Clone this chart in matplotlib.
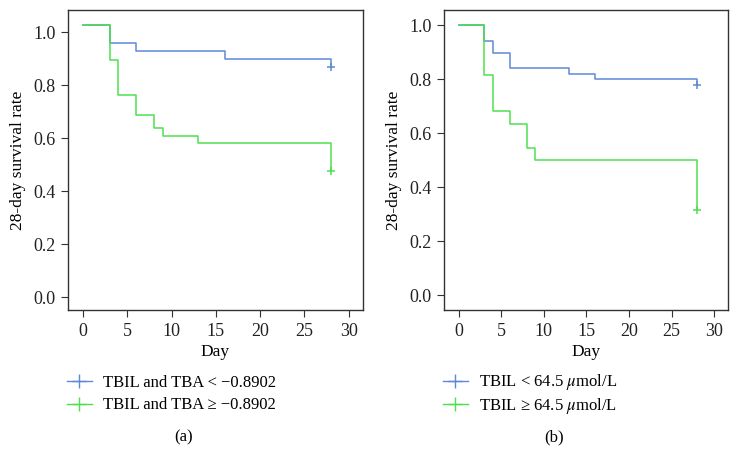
import matplotlib
matplotlib.use("Agg")
import matplotlib.pyplot as plt
from matplotlib.lines import Line2D

plt.rcParams['font.family'] = ['Liberation Serif', 'DejaVu Serif']
plt.rcParams['mathtext.fontset'] = 'stix'
plt.rcParams['font.size'] = 11

# panel (a)
a_low_days = [0, 3, 6, 16, 28]
a_low_surv = [1.026, 0.960, 0.931, 0.900, 0.870]
a_high_days = [0, 3, 4, 6, 8, 9, 13, 28]
a_high_surv = [1.026, 0.894, 0.762, 0.687, 0.637, 0.609, 0.583, 0.475]
a_labels = ["TBIL and TBA < \u22120.8902", "TBIL and TBA \u2265 \u22120.8902"]

# panel (b)
b_low_days = [0, 3, 4, 6, 13, 16, 28]
b_low_surv = [1.0, 0.941, 0.899, 0.841, 0.821, 0.800, 0.780]
b_high_days = [0, 3, 4, 6, 8, 9, 28]
b_high_surv = [1.0, 0.816, 0.681, 0.636, 0.546, 0.500, 0.316]
b_labels = [r"TBIL < 64.5 $\mu$mol/L", "TBIL \u2265 64.5 $\\mu$mol/L"]

blue = '#5f87d8'
green = '#4ee04e'

fig = plt.figure(figsize=(7.39, 4.70), dpi=100)
ax_a = fig.add_axes([0.092, 0.340, 0.399, 0.638])
ax_b = fig.add_axes([0.601, 0.340, 0.384, 0.638])


def km_panel(ax, low_d, low_s, high_d, high_s, labels, ylim, caption, cx, spacing):
    for d, s, c in [(low_d, low_s, blue), (high_d, high_s, green)]:
        ax.step(d, s, where='post', color=c, lw=1.1)
        ax.plot(d[-1], s[-1], marker='+', color=c, ms=6, mew=1.1)
    ax.set_xlim(-1.7, 31.6)
    ax.set_ylim(*ylim)
    ax.set_xticks([0, 5, 10, 15, 20, 25, 30])
    ax.set_yticks([0.0, 0.2, 0.4, 0.6, 0.8, 1.0])
    ax.set_yticklabels(["0.0", "0.2", "0.4", "0.6", "0.8", "1.0"])
    ax.set_xlabel("Day", fontsize=12.5, labelpad=3)
    ax.set_ylabel("28-day survival rate", fontsize=12.5, labelpad=5)
    for sp in ax.spines.values():
        sp.set_color('#333333')
        sp.set_linewidth(1.0)
    ax.tick_params(colors='#333333', labelcolor='#222222', length=5, width=0.8,
                   labelsize=13, pad=4)
    handles = [Line2D([], [], color=blue, marker='+', ms=10, mew=1.0, lw=1.0),
               Line2D([], [], color=green, marker='+', ms=10, mew=1.0, lw=1.0)]
    ax.legend(handles, labels, loc='center left', bbox_to_anchor=(-0.005, -0.28),
              frameon=False, borderaxespad=0, borderpad=0, handlelength=1.5,
              handletextpad=0.7, labelspacing=spacing, fontsize=12)
    fig.text(cx, 1 - 437 / 470, caption, ha='center', va='center', fontsize=12)


km_panel(ax_a, a_low_days, a_low_surv, a_high_days, a_high_surv, a_labels,
         (-0.049, 1.083), "(a)", 184 / 739, 0.4)
km_panel(ax_b, b_low_days, b_low_surv, b_high_days, b_high_surv, b_labels,
         (-0.056, 1.056), "(b)", 554 / 739, 0.2)

fig.savefig("out.png", dpi=100)
